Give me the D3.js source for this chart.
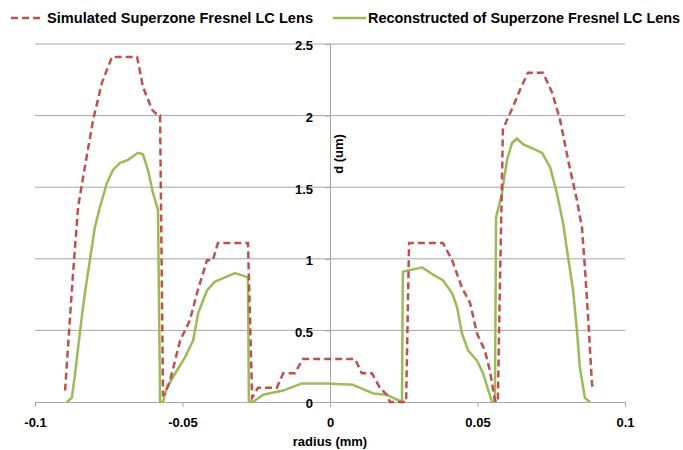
<!doctype html>
<html>
  <head>
    <meta charset="utf-8">
    <script src="https://cdnjs.cloudflare.com/ajax/libs/d3/7.8.5/d3.min.js"></script>
    <style>
      body { margin: 0; background: #fff; }
      text { font-family: "Liberation Sans", Arial, sans-serif; font-weight: bold; fill: #000; }
    </style>
  </head>
  <body>
    <svg id="chart" width="683" height="450"></svg>
    <script>
        // simulated profile (red dashed)
        var simRadius = [-0.0898, -0.0885, -0.0871, -0.0854, -0.0837, -0.0803, -0.0773, -0.0739, -0.0654, -0.0634, -0.0603, -0.0583, -0.0576, -0.0566,
            -0.0559, -0.0542, -0.0508, -0.0475, -0.0451, -0.0417, -0.0397, -0.0380, -0.0278, -0.0264, -0.0244, -0.0180, -0.0159, -0.0119, -0.0092,
            0.0085, 0.0108, 0.0142, 0.0169, 0.0193, 0.0203, 0.0244, 0.0258, 0.0268, 0.0383, 0.0414, 0.0447, 0.0475, 0.0498, 0.0525, 0.0542, 0.0559, 0.0569,
            0.0576, 0.0583, 0.0586, 0.0600, 0.0620, 0.0644, 0.0671, 0.0722, 0.0753, 0.0780, 0.0807, 0.0837, 0.0854, 0.0864, 0.0875, 0.0888, 0.0892];
        var simD = [0.08, 0.48, 0.90, 1.36, 1.57, 1.97, 2.23, 2.41, 2.41, 2.20, 2.04, 2.00, 2.00, 0.05,
            0.06, 0.15, 0.43, 0.57, 0.76, 0.99, 0.99, 1.11, 1.11, 0.03, 0.10, 0.10, 0.20, 0.20, 0.30,
            0.30, 0.20, 0.20, 0.10, 0.05, 0.00, 0.00, 0.00, 1.11, 1.11, 0.99, 0.80, 0.69, 0.48, 0.36, 0.22, 0.01, 0.00,
            0.83, 1.53, 1.90, 1.97, 2.06, 2.18, 2.30, 2.30, 2.16, 1.97, 1.69, 1.41, 1.22, 0.94, 0.59, 0.13, 0.08];

        // reconstructed profile (green)
        var recRadius = [-0.0892, -0.0875, -0.0864, -0.0847, -0.0831, -0.0814, -0.0797, -0.0780, -0.0756, -0.0736, -0.0712, -0.0685, -0.0651, -0.0634,
            -0.0617, -0.0600, -0.0583, -0.0576, -0.0566, -0.0553, -0.0519, -0.0492, -0.0464, -0.0447, -0.0417, -0.0390, -0.0356, -0.0322, -0.0278,
            -0.0275, -0.0261, -0.0227, -0.0159, -0.0095, -0.0010, 0.0078, 0.0146, 0.0193, 0.0244, 0.0247, 0.0312, 0.0349, 0.0383, 0.0414, 0.0431,
            0.0447, 0.0468, 0.0498, 0.0519, 0.0549, 0.0559, 0.0563, 0.0569, 0.0583, 0.0600, 0.0617, 0.0634, 0.0654, 0.0688, 0.0719, 0.0746, 0.0769,
            0.0790, 0.0807, 0.0824, 0.0837, 0.0847, 0.0864, 0.0881];
        var recD = [0.00, 0.03, 0.20, 0.50, 0.76, 0.99, 1.22, 1.36, 1.53, 1.62, 1.67, 1.69, 1.74, 1.73,
            1.62, 1.46, 1.34, 0.00, 0.00, 0.10, 0.22, 0.31, 0.43, 0.62, 0.78, 0.84, 0.87, 0.90, 0.87,
            0.00, 0.00, 0.05, 0.08, 0.13, 0.13, 0.12, 0.06, 0.05, 0.00, 0.91, 0.94, 0.89, 0.85, 0.76, 0.66,
            0.48, 0.36, 0.29, 0.20, 0.00, 0.00, 1.29, 1.34, 1.46, 1.69, 1.81, 1.84, 1.80, 1.77, 1.74, 1.64, 1.46,
            1.25, 1.01, 0.78, 0.50, 0.24, 0.03, 0.00];

        var xTicks = [-0.1, -0.05, 0, 0.05, 0.1];
        var yTicks = [0, 0.5, 1, 1.5, 2, 2.5];
        var seriesNames = ["Simulated Superzone Fresnel LC Lens", "Reconstructed of Superzone Fresnel LC Lens"];

        var svg = d3.select("#chart");
        var xScale = d3.scaleLinear().domain([-0.1, 0.1]).range([35, 625]);
        var yScale = d3.scaleLinear().domain([0, 2.5]).range([402, 44]);

        // horizontal gridlines
        svg.append("g").selectAll("line").data(yTicks.slice(1)).enter().append("line")
            .attr("x1", xScale(-0.1)).attr("x2", xScale(0.1))
            .attr("y1", d => yScale(d)).attr("y2", d => yScale(d))
            .style("stroke", "#a6a6a6").style("stroke-width", "1px");

        // x axis at d = 0
        var xAxis = d3.axisBottom(xScale).tickValues(xTicks).tickSize(5).tickFormat(d => String(d)).tickPadding(8);
        var xg = svg.append("g").attr("transform", "translate(0," + yScale(0) + ")").call(xAxis);
        xg.select(".domain").style("stroke", "#a6a6a6");
        xg.selectAll(".tick line").style("stroke", "#a6a6a6");
        xg.selectAll("text").style("font-size", "13px").attr("dy", "0.95em");

        // y axis at radius = 0
        var yAxis = d3.axisLeft(yScale).tickValues(yTicks).tickSize(5).tickFormat(d => String(d)).tickPadding(12);
        var yg = svg.append("g").attr("transform", "translate(" + xScale(0) + ",0)").call(yAxis);
        yg.select(".domain").style("stroke", "#a6a6a6");
        yg.selectAll(".tick line").style("stroke", "#a6a6a6");
        yg.selectAll("text").style("font-size", "13px").attr("dy", "0.45em");

        svg.append("text").attr("x", xScale(0)).attr("y", 446).attr("text-anchor", "middle")
            .style("font-size", "13px").text("radius (mm)");
        svg.append("text").attr("transform", "translate(343,154) rotate(-90)").attr("text-anchor", "middle")
            .style("font-size", "13px").text("d (um)");

        var simData = simRadius.map((r, i) => [r, simD[i]]);
        var recData = recRadius.map((r, i) => [r, recD[i]]);
        var line = d3.line().x(d => xScale(d[0])).y(d => yScale(d[1]));

        svg.append("path").attr("d", line(recData))
            .style("fill", "none").style("stroke", "#9bbb59").style("stroke-width", "2.5px")
            .style("stroke-linejoin", "round");
        svg.append("path").attr("d", line(simData))
            .style("fill", "none").style("stroke", "#c0504d").style("stroke-width", "2.5px")
            .style("stroke-dasharray", "7,4");

        // legend
        var legend = svg.append("g");
        legend.append("line").attr("x1", 11).attr("x2", 42).attr("y1", 18).attr("y2", 18)
            .style("stroke", "#c0504d").style("stroke-width", "2.5px").style("stroke-dasharray", "7,4");
        legend.append("text").attr("x", 47).attr("y", 23).style("font-size", "14px")
            .attr("textLength", 266).attr("lengthAdjust", "spacingAndGlyphs").text(seriesNames[0]);
        legend.append("line").attr("x1", 333).attr("x2", 366).attr("y1", 18).attr("y2", 18)
            .style("stroke", "#9bbb59").style("stroke-width", "2.5px");
        legend.append("text").attr("x", 368).attr("y", 23).style("font-size", "14px")
            .attr("textLength", 312).attr("lengthAdjust", "spacingAndGlyphs").text(seriesNames[1]);
    </script>
  </body>
</html>
